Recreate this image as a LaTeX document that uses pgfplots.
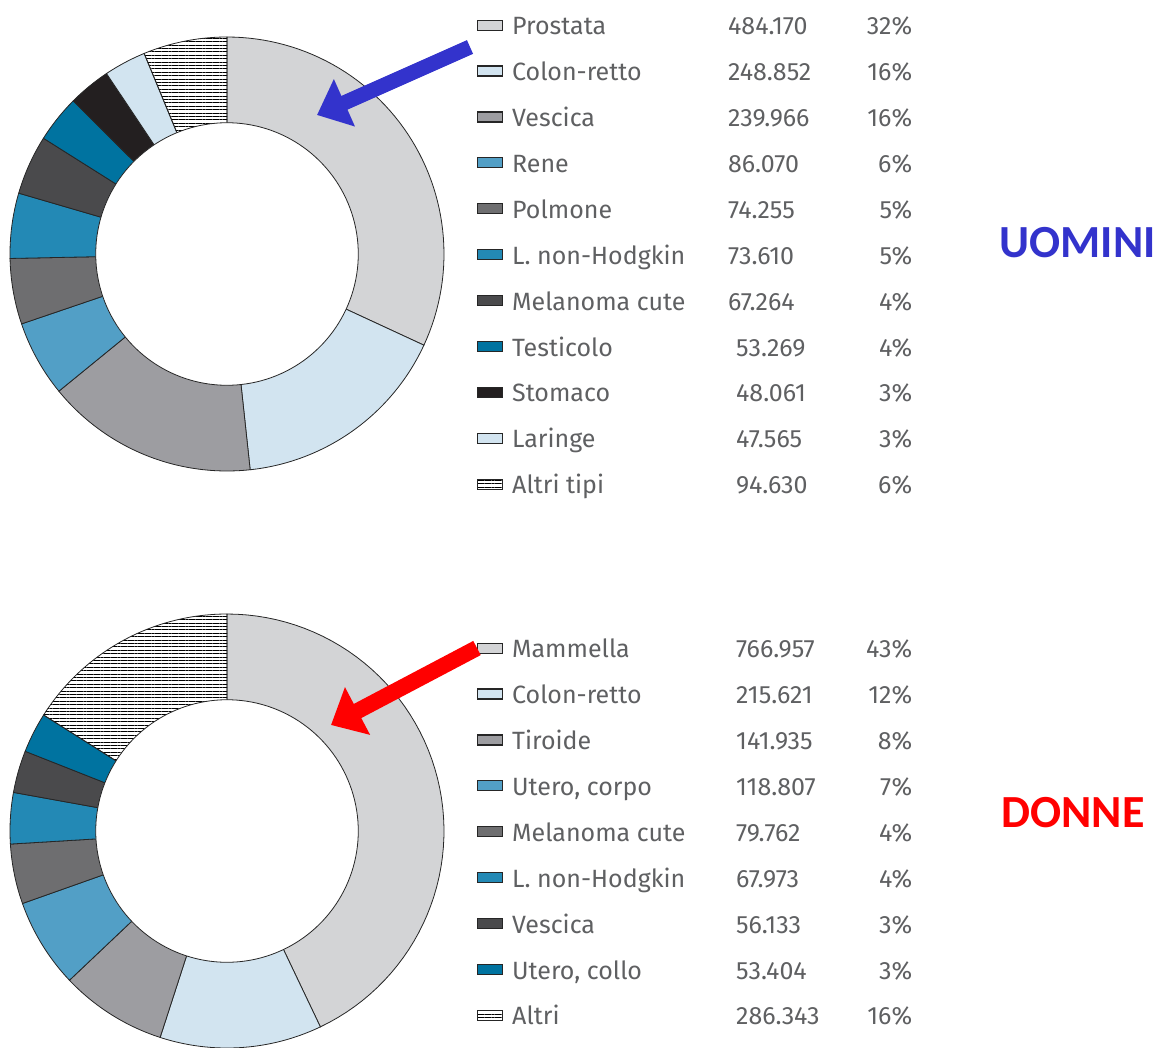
\documentclass[border=0pt]{standalone}
\usepackage{pgfplots}
\usepackage{pgfplotstable}
\pgfplotsset{compat=1.18}
\usepgfplotslibrary{polar}
\usetikzlibrary{arrows.meta,patterns.meta}
\usepackage{fontspec}
\setmainfont{Fira Sans}
\newfontfamily\calibri{Carlito}

\definecolor{cA}{HTML}{D3D4D6}
\definecolor{cB}{HTML}{D2E4F0}
\definecolor{cC}{HTML}{9D9DA1}
\definecolor{cD}{HTML}{529FC6}
\definecolor{cE}{HTML}{6E6E70}
\definecolor{cF}{HTML}{2389B5}
\definecolor{cG}{HTML}{4A4A4C}
\definecolor{cH}{HTML}{0073A0}
\definecolor{cI}{HTML}{231F20}
\definecolor{legtext}{HTML}{5F6062}
\definecolor{uomini}{HTML}{3333CC}
\definecolor{donne}{HTML}{FF0000}

\tikzset{
  wedge/.style={draw=black!85, line width=0.4pt},
  sA/.style={wedge, fill=cA}, sB/.style={wedge, fill=cB},
  sC/.style={wedge, fill=cC}, sD/.style={wedge, fill=cD},
  sE/.style={wedge, fill=cE}, sF/.style={wedge, fill=cF},
  sG/.style={wedge, fill=cG}, sH/.style={wedge, fill=cH},
  sI/.style={wedge, fill=cI},
  sX/.style={wedge, fill=white, pattern={Lines[angle=0, distance=1.7pt, line width=0.4pt]}},
}

% values in thousands (484.170 = 484 170 cases)
\pgfplotstableread[col sep=semicolon]{
name;value;pct;sty;off
Prostata;484.170;32;sA;0
Colon-retto;248.852;16;sB;0
Vescica;239.966;16;sC;0
Rene;86.070;6;sD;0
Polmone;74.255;5;sE;0
L. non-Hodgkin;73.610;5;sF;0
Melanoma cute;67.264;4;sG;0
Testicolo;53.269;4;sH;4
Stomaco;48.061;3;sI;4
Laringe;47.565;3;sB;4
Altri tipi;94.630;6;sX;4
}\men

\pgfplotstableread[col sep=semicolon]{
name;value;pct;sty;off
Mammella;766.957;43;sA;4
Colon-retto;215.621;12;sB;4
Tiroide;141.935;8;sC;4
Utero, corpo;118.807;7;sD;4
Melanoma cute;79.762;4;sE;4
L. non-Hodgkin;67.973;4;sF;4
Vescica;56.133;3;sG;4
Utero, collo;53.404;3;sH;4
Altri;286.343;16;sX;4
}\women

% one donut: wedges clockwise from the top, then the white hole
\newcommand\donut[1]{%
  \pgfplotstablegetrowsof{#1}%
  \pgfmathtruncatemacro\nlast{\pgfplotsretval-1}%
  \def\tot{0}%
  \pgfplotsforeachungrouped \row in {0,...,\nlast}{%
    \pgfplotstablegetelem{\row}{value}\of#1%
    \pgfmathsetmacro\tot{\tot+\pgfplotsretval}}%
  \def\cum{0}%
  \pgfplotsforeachungrouped \row in {0,...,\nlast}{%
    \pgfplotstablegetelem{\row}{value}\of#1\let\val\pgfplotsretval
    \pgfplotstablegetelem{\row}{name}\of#1\let\nm\pgfplotsretval
    \pgfplotstablegetelem{\row}{pct}\of#1\let\pc\pgfplotsretval
    \pgfplotstablegetelem{\row}{sty}\of#1\let\st\pgfplotsretval
    \pgfplotstablegetelem{\row}{off}\of#1\let\ofs\pgfplotsretval
    \pgfmathsetmacro\aend{450-360*(\cum/\tot)}%
    \pgfmathsetmacro\cum{\cum+\val}%
    \pgfmathsetmacro\astart{450-360*(\cum/\tot)}%
    \edef\tmp{\noexpand\addplot[\st, domain=\astart:\aend, samples=60] {1} -- (axis cs:0,0) -- cycle;
      \noexpand\addlegendentry{\noexpand\makebox[108pt][l]{\nm}\noexpand\makebox[62pt][l]{\noexpand\hspace*{\ofs pt}\noexpand\pgfmathprintnumber[fixed,fixed zerofill,precision=3,assume math mode=true]{\val}}\noexpand\makebox[30pt][r]{\pc\noexpand\%}}}%
    \tmp}%
  \addplot[fill=white, draw=black!85, line width=0.4pt, domain=0:360, samples=160, forget plot] {0.605} -- cycle;
}

\pgfplotsset{
  donutaxis/.style={
    width=217pt, height=217pt, scale only axis,
    xmin=90, xmax=450, ymin=0, ymax=1,
    hide axis, clip=false,
    legend cell align=left,
    legend image code/.code={\draw[##1, line width=0.6pt] (0pt,-1.2pt) rectangle (12.5pt,3.8pt);},
    legend style={draw=none, fill=none, inner sep=0pt, outer sep=0pt,
      font=\fontsize{12.5}{14}\selectfont, text=legtext,
      row sep=7.95pt, column sep=4.5pt,
      nodes={inner sep=0pt, text height=11pt, text depth=4pt}},
  },
}

\begin{document}
\begin{tikzpicture}
\path[use as bounding box] (0pt,0pt) rectangle (580.5pt,-524pt);

\begin{polaraxis}[donutaxis, at={(113.5pt,-127pt)}, anchor=origin,
  legend style={at={(1.076,1.056)}, anchor=north west}]
\donut{\men}
\end{polaraxis}

\begin{polaraxis}[donutaxis, at={(113.5pt,-415.5pt)}, anchor=origin,
  legend style={at={(1.076,0.950)}, anchor=north west}]
\donut{\women}
\end{polaraxis}

\draw[uomini, line width=7.5pt, -{Triangle[length=15pt,width=25pt]}] (235pt,-23.5pt) -- (158.5pt,-57.5pt);
\draw[donne, line width=8pt, -{Triangle[length=15pt,width=26pt]}] (238.5pt,-324pt) -- (165.5pt,-362.5pt);

\node[anchor=base west, inner sep=0pt, text=uomini, font=\calibri\bfseries\fontsize{23}{23}\selectfont] at (499.5pt,-128.5pt) {UOMINI};
\node[anchor=base west, inner sep=0pt, text=donne, font=\calibri\bfseries\fontsize{23}{23}\selectfont] at (500.5pt,-413.5pt) {DONNE};
\end{tikzpicture}
\end{document}
